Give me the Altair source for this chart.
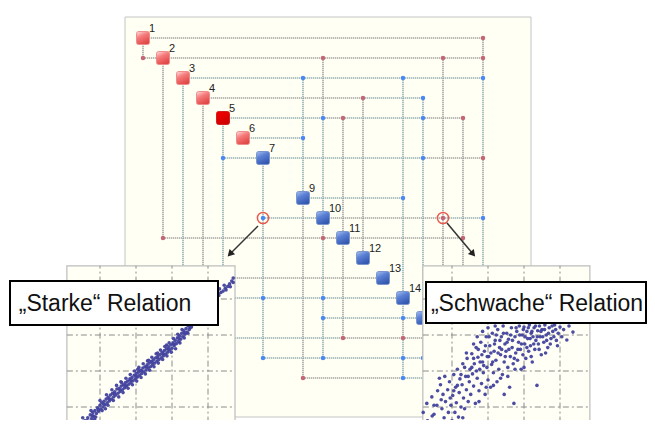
import altair as alt
import pandas as pd

W, H = 639, 412

# ---------------- matrix (DSM) data ----------------
node_ids = [1, 2, 3, 4, 5, 6, 7, 9, 10, 11, 12, 13, 14, 15, 16, 17, 18]
node_kind = ["red", "red", "red", "red", "hot", "red",
             "blue", "blue", "blue", "blue", "blue", "blue", "blue", "blue", "blue", "blue", "blue"]
# labels of nodes 15-18 are covered by the insets in the reference
label_ids = [1, 2, 3, 4, 5, 6, 7, 9, 10, 11, 12, 13, 14]

dot_rows = [1, 2, 2, 2, 2, 3, 3, 3, 4, 4, 5, 5, 5, 5, 6, 7, 7, 7, 9, 10, 10, 10,
            11, 11, 11, 13, 14, 14, 14, 15, 15, 16, 16, 16, 17, 17, 17, 17, 18, 18]
dot_cols = [18, 1, 10, 16, 18, 9, 14, 18, 12, 15, 10, 11, 15, 17, 9, 5, 15, 18, 14, 7, 16, 18,
            2, 10, 17, 4, 5, 7, 10, 10, 14, 3, 11, 14, 7, 10, 14, 15, 9, 14]
dot_kind = ["r",
            "r", "r", "r", "r",
            "b", "b", "b",
            "r", "b",
            "b", "r", "b", "r",
            "b",
            "b", "b", "r",
            "b",
            "b", "r", "b",
            "r", "r", "r",
            "r",
            "b", "b", "b",
            "b", "b",
            "b", "r", "r",
            "b", "b", "b", "b",
            "r", "b"]

circled_rows = [10, 10]
circled_cols = [7, 16]

# ---------------- scatter insets (grid units) ----------------
strong_pts = [
    (0.15, 0.10), (0.22, 0.25), (0.28, 0.18), (0.33, 0.35), (0.38, 0.30), (0.42, 0.45), (0.47, 0.38),
    (0.50, 0.55), (0.55, 0.48), (0.58, 0.62), (0.62, 0.55), (0.66, 0.70), (0.70, 0.60), (0.73, 0.78),
    (0.77, 0.68), (0.80, 0.85), (0.83, 0.74), (0.86, 0.90), (0.90, 0.82), (0.93, 0.98), (0.96, 0.88),
    (1.00, 1.05), (1.02, 0.94), (1.05, 1.12), (1.08, 1.00), (1.11, 1.16), (1.14, 1.06), (1.17, 1.22),
    (1.20, 1.12), (1.23, 1.27), (1.26, 1.17), (1.29, 1.33), (1.32, 1.22), (1.35, 1.38), (1.38, 1.28),
    (1.41, 1.42), (1.44, 1.33), (1.47, 1.50), (1.50, 1.38), (1.53, 1.52), (1.56, 1.43), (1.59, 1.58),
    (1.62, 1.48), (1.65, 1.62), (1.68, 1.53), (1.71, 1.68), (1.74, 1.58), (1.77, 1.72), (1.80, 1.63),
    (1.83, 1.78), (1.86, 1.68), (1.89, 1.82), (1.92, 1.73), (1.95, 1.88), (1.98, 1.78), (2.01, 1.93),
    (2.04, 1.83), (2.07, 1.97), (2.10, 1.88), (2.13, 2.02), (2.16, 1.93), (2.19, 2.08), (2.22, 1.98),
    (2.25, 2.12), (2.28, 2.03), (2.31, 2.17), (2.34, 2.08), (2.37, 2.22), (2.40, 2.12), (2.43, 2.27),
    (2.46, 2.17), (2.49, 2.32), (2.52, 2.22), (2.55, 2.37), (2.58, 2.27), (2.61, 2.42), (2.64, 2.32),
    (2.67, 2.46), (2.70, 2.37), (2.73, 2.52), (2.76, 2.42), (2.79, 2.57), (2.82, 2.47), (2.85, 2.62),
    (2.88, 2.52), (2.91, 2.67), (2.94, 2.58), (2.97, 2.73), (3.00, 2.63), (3.03, 2.78), (3.06, 2.70),
    (3.09, 2.85), (3.12, 2.76), (3.15, 2.92), (3.18, 2.82), (3.21, 2.98), (3.24, 2.88), (3.27, 3.05),
    (3.30, 2.95), (3.33, 3.12), (3.36, 3.02), (3.39, 3.18), (3.42, 3.08), (3.45, 3.25), (3.48, 3.15),
    (3.51, 3.30), (3.54, 3.22),
    (0.30, 0.28), (0.45, 0.42), (0.64, 0.62), (0.79, 0.76), (0.95, 0.93), (1.10, 1.08), (1.25, 1.22),
    (1.40, 1.36), (1.55, 1.48), (1.70, 1.60), (1.85, 1.74), (2.00, 1.86), (2.15, 2.00), (2.30, 2.12),
    (2.45, 2.24), (2.60, 2.36), (2.75, 2.48), (2.90, 2.60), (3.05, 2.74), (3.20, 2.90), (3.35, 3.06),
    (3.50, 3.20),
    (0.52, 0.70), (1.15, 0.95), (1.60, 1.68), (2.35, 2.30), (2.85, 2.72), (3.40, 3.30), (0.85, 0.65),
    (2.05, 2.05), (2.60, 2.50),
    (0.35, 0.48), (0.60, 0.42), (0.75, 0.90), (0.88, 0.72), (1.00, 1.18), (1.06, 0.90), (1.18, 1.34),
    (1.22, 1.05), (1.33, 1.48), (1.37, 1.18), (1.46, 1.60), (1.52, 1.28), (1.58, 1.70), (1.64, 1.40),
    (1.72, 1.80), (1.78, 1.52), (1.84, 1.90), (1.90, 1.62), (1.96, 2.00), (2.02, 1.72), (2.08, 2.10),
    (2.14, 1.82), (2.20, 2.20), (2.26, 1.92), (2.32, 2.28), (2.38, 2.02), (2.44, 2.38), (2.50, 2.12),
    (2.56, 2.48), (2.62, 2.22), (2.68, 2.58), (2.74, 2.32), (2.80, 2.68), (2.86, 2.42), (2.92, 2.78),
    (2.98, 2.52), (3.04, 2.90), (3.10, 2.62), (3.16, 3.02), (3.22, 2.78), (3.28, 3.15), (3.34, 2.92),
    (3.44, 3.05), (3.56, 3.30),
    (4.15, 3.98), (4.22, 4.05), (4.30, 4.10), (4.36, 4.18), (4.42, 4.22), (4.48, 4.30), (4.55, 4.35),
    (4.60, 4.42), (4.66, 4.50), (4.70, 4.46), (4.28, 4.16), (4.50, 4.25), (4.32, 4.28), (4.45, 4.38),
    (4.62, 4.34), (4.70, 4.58),
]
weak_pts = [
    (0.25, 0.45), (0.32, 0.62), (0.40, 0.30), (0.44, 1.28), (0.50, 0.80), (0.55, 0.55), (0.58, 1.05),
    (0.62, 0.35), (0.65, 1.80), (0.68, 1.62), (0.72, 0.95), (0.75, 1.35), (0.78, 0.70), (0.82, 1.15),
    (0.85, 0.50), (0.88, 1.48), (0.90, 0.85), (0.93, 1.70), (0.20, 0.85), (0.30, 1.10), (0.36, 0.48),
    (0.97, 1.05), (1.00, 0.62), (1.02, 1.32), (1.05, 1.90), (1.08, 0.85), (1.10, 1.55), (1.12, 1.12),
    (1.15, 2.05), (1.18, 0.72), (1.20, 1.40), (1.22, 1.78), (1.25, 1.00), (1.28, 1.62), (1.30, 2.20),
    (1.32, 1.25), (1.35, 0.95), (1.38, 1.85), (1.40, 1.48), (1.42, 2.35), (1.45, 1.15), (1.48, 1.70),
    (1.50, 2.05),
    (1.52, 1.35), (1.55, 2.48), (1.57, 1.92), (1.60, 1.58), (1.62, 2.20), (1.65, 1.10), (1.67, 2.65),
    (1.70, 1.80), (1.72, 2.38), (1.75, 1.45), (1.77, 2.05), (1.80, 2.80), (1.82, 1.65), (1.85, 2.25),
    (1.87, 1.95), (1.90, 2.55), (1.92, 1.35), (1.95, 2.95), (1.97, 2.10), (2.00, 1.75),
    (2.02, 2.40), (2.05, 2.70), (2.07, 1.55), (2.10, 2.18), (2.12, 3.05), (2.15, 1.95), (2.17, 2.55),
    (2.20, 2.85), (2.22, 2.30), (2.25, 1.70), (2.27, 3.15), (2.30, 2.05), (2.32, 2.65), (2.35, 2.45),
    (2.37, 2.95), (2.40, 1.90), (2.42, 3.25), (2.45, 2.25), (2.47, 2.75), (2.50, 2.55),
    (2.52, 3.05), (2.55, 2.10), (2.57, 2.88), (2.60, 1.55), (2.62, 2.40), (2.65, 3.20), (2.67, 2.65),
    (2.70, 2.20), (2.72, 1.10), (2.75, 2.95), (2.77, 2.50), (2.80, 3.10), (2.82, 2.30), (2.85, 2.80),
    (2.87, 3.25), (2.90, 2.60), (2.92, 2.05), (2.95, 3.00), (2.97, 2.45), (3.00, 3.22),
    (3.02, 2.75), (3.05, 2.35), (3.08, 3.10), (3.10, 2.90), (3.13, 2.55), (3.15, 3.28), (3.18, 2.70),
    (3.20, 3.05), (3.23, 2.25), (3.25, 2.95), (3.28, 3.20), (3.30, 2.60), (3.33, 2.85), (3.36, 1.60),
    (3.38, 3.12), (3.40, 2.75), (3.43, 3.25), (3.45, 2.95), (3.48, 2.45), (3.50, 3.15), (3.55, 2.80),
    (3.58, 3.28),
    (3.62, 3.00), (3.66, 2.65), (3.70, 3.20), (3.75, 2.90), (3.80, 3.10), (3.85, 3.28), (3.90, 2.85),
    (3.95, 3.05), (4.00, 3.22), (4.05, 2.95), (4.10, 3.15), (4.19, 2.86), (4.25, 3.25), (4.36, 3.08),
    (1.55, 2.10), (1.60, 2.35), (1.68, 2.00), (1.73, 2.60), (1.78, 2.25), (1.83, 2.45), (1.88, 2.15),
    (1.93, 2.70), (1.98, 2.40), (2.03, 2.95), (2.08, 2.50), (2.13, 2.25), (2.18, 2.75), (2.23, 3.00),
    (2.28, 2.50), (2.33, 2.85), (2.38, 2.60), (2.43, 3.05), (2.48, 2.40), (2.53, 2.80), (2.58, 2.60),
    (2.63, 3.00), (2.68, 2.85), (2.73, 2.35), (2.78, 3.20), (2.83, 2.60), (2.88, 3.00), (2.93, 2.75),
    (2.98, 3.15), (3.03, 2.95), (3.08, 2.65), (3.12, 3.20), (3.17, 2.90), (3.22, 3.10), (3.27, 2.75),
    (3.32, 3.25), (3.37, 2.95), (3.42, 2.60), (3.47, 3.10), (3.52, 2.95), (3.57, 3.15), (3.63, 2.85),
    (3.68, 3.05), (3.73, 2.75), (3.78, 3.25), (3.83, 2.95), (3.88, 3.15), (3.93, 2.70),
    (1.25, 1.90), (1.35, 2.10), (1.45, 1.85), (1.15, 1.60), (1.05, 1.45), (0.95, 1.25), (0.80, 1.85),
    (0.70, 1.20), (0.60, 1.45), (0.50, 1.05), (1.40, 2.50), (1.60, 2.75), (1.70, 2.95), (1.85, 3.10),
    (2.00, 3.20), (2.20, 3.25), (1.95, 1.55), (2.15, 1.60), (2.35, 1.80), (2.55, 1.85), (2.75, 2.05),
    (3.00, 2.10), (3.20, 2.40), (3.60, 2.50), (2.45, 1.35), (1.75, 1.15), (1.30, 0.70), (1.05, 0.40),
    (0.70, 0.50), (0.45, 0.75),
]
grid_ticks = [1, 2, 3, 4]
left_panel = dict(x=0.08, x2=4.75, y=-0.6, y2=4.92)
right_panel = dict(x=0.19, x2=4.83, y=-0.6, y2=4.92)
label_left = "\u201eStarke\u201c Relation"
label_right = "\u201eSchwache\u201c Relation"

# ---------------- scales ----------------
MX = alt.Scale(domain=[0, 20], range=[115, 515], nice=False, zero=False)
MY = alt.Scale(domain=[0, 20], range=[10, 410], nice=False, zero=False)
LX = alt.Scale(domain=[0, 4], range=[56, 200], nice=False, zero=False)
RX = alt.Scale(domain=[0, 4], range=[408, 552], nice=False, zero=False)
IY = alt.Scale(domain=[0, 4], range=[435, 291], nice=False, zero=False)


def X(f, s):
    return alt.X(f + ":Q", scale=s, axis=None)


def Y(f, s):
    return alt.Y(f + ":Q", scale=s, axis=None)


# ---------------- build line segments from dots ----------------
node_set = set(node_ids)
pts_by_row = {}
pts_by_col = {}
for r, c, k in zip(dot_rows, dot_cols, dot_kind):
    pts_by_row.setdefault(r, {})[c] = k
    pts_by_col.setdefault(c, {})[r] = k

segs = []
for r in sorted(set(pts_by_row) | node_set):
    pts = pts_by_row.get(r, {})
    cols = sorted(set(pts) | ({r} if r in node_set else set()))
    for a, b in zip(cols[:-1], cols[1:]):
        far = b if b > r else a
        segs.append(dict(x=a, x2=b, y=r, y2=r, lk=pts.get(far, "r")))
for c in sorted(set(pts_by_col) | node_set):
    pts = pts_by_col.get(c, {})
    rows = sorted(set(pts) | ({c} if c in node_set else set()))
    for a, b in zip(rows[:-1], rows[1:]):
        far = b if b > c else a
        segs.append(dict(x=c, x2=c, y=a, y2=b, lk=pts.get(far, "r")))
seg_df = pd.DataFrame(segs)
dots_df = pd.DataFrame({"row": dot_rows, "col": dot_cols, "k": dot_kind})
nodes_df = pd.DataFrame({"i": node_ids, "kind": node_kind})
labels_df = pd.DataFrame({"i": label_ids})
circ_df = pd.DataFrame({"row": circled_rows, "col": circled_cols})

layers = []

# main panel
panel_df = pd.DataFrame([dict(x=0.1, x2=20.4, y=-0.05, y2=19.95)])
layers.append(alt.Chart(panel_df).mark_rect(fill="#fffff3", stroke="#c4c4c4", strokeWidth=1).encode(
    x=X("x", MX), x2="x2:Q", y=Y("y", MY), y2="y2:Q"))

# segments: faint under-band + dotted line
layers.append(alt.Chart(seg_df).mark_rule(color="#e2e2da", strokeWidth=1.6).encode(
    x=X("x", MX), x2="x2:Q", y=Y("y", MY), y2="y2:Q"))
for kk, col in [("r", "#8e8e8e"), ("b", "#6ea4ae")]:
    layers.append(alt.Chart(seg_df[seg_df.lk == kk]).mark_rule(
        color=col, strokeWidth=1.1, strokeDash=[1, 1]).encode(
        x=X("x", MX), x2="x2:Q", y=Y("y", MY), y2="y2:Q"))

# relation dots
for kk, col in [("r", "#c46676"), ("b", "#4a88f5")]:
    layers.append(alt.Chart(dots_df[dots_df.k == kk]).mark_circle(size=20, color=col, opacity=1).encode(
        x=X("col", MX), y=Y("row", MY)))

# nodes
def grad(c0, c1, c2):
    return alt.LinearGradient(gradient="linear", x1=0, y1=0, x2=0.5, y2=1,
                              stops=[alt.GradientStop(color=c0, offset=0),
                                     alt.GradientStop(color=c1, offset=0.45),
                                     alt.GradientStop(color=c2, offset=1)])

node_styles = {
    "red": (grad("#ffe0e0", "#f57a7a", "#e24848"), "#ee8c8c"),
    "hot": (grad("#f40000", "#e40000", "#d00000"), "#d02020"),
    "blue": (grad("#a8c0f0", "#5a80d4", "#3558b0"), "#7a94cc"),
}
for kind, (fill, stroke) in node_styles.items():
    layers.append(alt.Chart(nodes_df[nodes_df.kind == kind]).mark_rect(
        fill=fill, stroke=stroke, strokeWidth=1, cornerRadius=2,
        xOffset=-6.5, x2Offset=6.5, yOffset=-6.5, y2Offset=6.5).encode(
        x=X("i", MX), x2="i:Q", y=Y("i", MY), y2="i:Q"))

layers.append(alt.Chart(labels_df).mark_text(
    align="left", baseline="alphabetic", dx=6, dy=-6, fontSize=11,
    font="Liberation Sans", color="#222222").encode(
    x=X("i", MX), y=Y("i", MY), text="i:Q"))

# highlighted relations
layers.append(alt.Chart(circ_df).mark_point(shape="circle", size=125, filled=False,
                                            color="#e85a50", strokeWidth=1.5, opacity=1).encode(
    x=X("col", MX), y=Y("row", MY)))

# arrows (connectors to insets)
one = pd.DataFrame({"k": [0]})
for (x0, y0, x1, y1, ang) in [(250, 218, 222, 246, 224), (439, 215, 465, 246, 140)]:
    layers.append(alt.Chart(one).mark_rule(color="#333333", strokeWidth=1.5).encode(
        x=alt.value(x0), y=alt.value(y0), x2=alt.value(x1), y2=alt.value(y1)))
    layers.append(alt.Chart(one).mark_point(shape="triangle-up", size=60, filled=True,
                                            color="#222222", angle=ang, opacity=1).encode(
        x=alt.value(x1), y=alt.value(y1)))

# insets
strong_df = pd.DataFrame(strong_pts, columns=["u", "v"])
weak_df = pd.DataFrame(weak_pts, columns=["u", "v"])
for pnl, sx, pts in [(left_panel, LX, strong_df), (right_panel, RX, weak_df)]:
    pdf = pd.DataFrame([pnl])
    layers.append(alt.Chart(pdf).mark_rect(fill="#fffff5", stroke="#bdbdbd", strokeWidth=1.2).encode(
        x=X("x", sx), x2="x2:Q", y=Y("y", IY), y2="y2:Q"))
    vg = pd.DataFrame({"g": grid_ticks, "lo": pnl["y"], "hi": pnl["y2"]})
    hg = pd.DataFrame({"g": grid_ticks, "lo": pnl["x"], "hi": pnl["x2"]})
    layers.append(alt.Chart(vg).mark_rule(color="#8c8c8c", strokeWidth=1, strokeDash=[6, 3, 2, 3]).encode(
        x=X("g", sx), y=Y("lo", IY), y2="hi:Q"))
    layers.append(alt.Chart(hg).mark_rule(color="#8c8c8c", strokeWidth=1, strokeDash=[6, 3, 2, 3]).encode(
        y=Y("g", IY), x=X("lo", sx), x2="hi:Q"))
    layers.append(alt.Chart(pts).mark_circle(size=13, color="#42429e", opacity=0.95).encode(
        x=X("u", sx), y=Y("v", IY)))

# label boxes
for (x0, x1, y0, y1, tx, txt) in [(2, 210, 273, 317, 97, label_left),
                                  (418, 638, 274, 315, 529, label_right)]:
    layers.append(alt.Chart(one).mark_rect(fill="white", stroke="black", strokeWidth=2).encode(
        x=alt.value(x0), x2=alt.value(x1), y=alt.value(y0), y2=alt.value(y1)))
    tdf = pd.DataFrame({"t": [txt]})
    layers.append(alt.Chart(tdf).mark_text(fontSize=23, font="Liberation Sans", color="#111111",
                                           align="center", baseline="middle").encode(
        x=alt.value(tx), y=alt.value((y0 + y1) / 2 + 1), text="t:N"))

chart = alt.layer(*layers).resolve_scale(x="independent", y="independent").properties(
    width=W, height=H, autosize=alt.AutoSizeParams(type="none"), padding=0,
    background="white").configure_view(stroke=None)

chart.save("out.html", embed_options={"renderer": "svg", "actions": False})
